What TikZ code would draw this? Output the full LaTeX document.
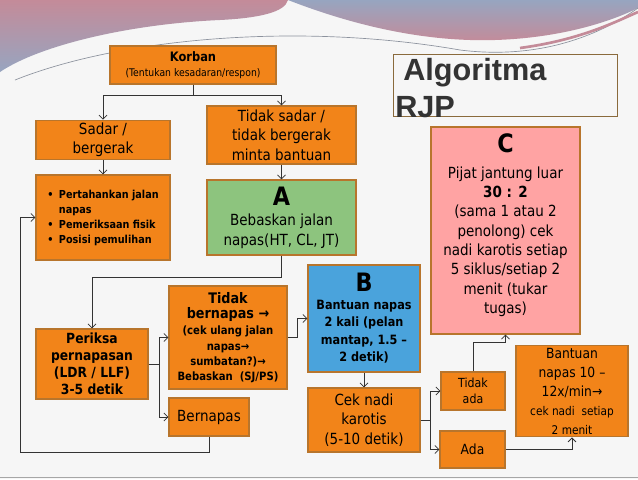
\documentclass[tikz,border=0pt]{standalone}
\usepackage{fontspec}
\setmainfont{DejaVu Sans}[FakeStretch=0.88]
\newfontfamily\titlefont{Liberation Sans}
\usetikzlibrary{arrows.meta}
\definecolor{rjInk}{HTML}{333333}
\definecolor{rjOrange}{HTML}{F28419}
\definecolor{rjEdge}{HTML}{B8752C}
\definecolor{rjGreen}{HTML}{8DC47E}
\definecolor{rjBlue}{HTML}{4AA3DC}
\definecolor{rjPink}{HTML}{FFA3A3}
\definecolor{rjBg}{HTML}{F6F6F6}
\definecolor{rjRose}{HTML}{C48B99}
\definecolor{rjSlate}{HTML}{97A5C0}
\definecolor{rjFrame}{HTML}{8A6A3C}
\newcommand{\fsz}[2]{\fontsize{#1}{#2}\selectfont}
\tikzset{
  dims/.style 2 args={minimum width=#1*0.75pt, minimum height=#2*0.75pt},
  box/.style={
    draw=rjEdge, line width=0.8pt, fill=rjOrange, text=black,
    align=center, inner sep=2pt, font=\fsz{11.5pt}{14.6pt}
  },
  greenbox/.style={box, fill=rjGreen},
  bluebox/.style={box, fill=rjBlue},
  pinkbox/.style={box, fill=rjPink},
  flow/.style={-{Straight Barb[length=3pt,width=6pt]}, line width=0.6pt, draw=rjInk},
}

\begin{document}
\begin{tikzpicture}[x=0.75pt, y=-0.75pt]
  \useasboundingbox (0,0) rectangle (638,479);
  \fill[rjBg] (0,0) rectangle (638,479);
  \draw[gray!70, line width=1pt] (0,477.5) -- (638,477.5);
  \shade[top color=rjRose, bottom color=rjSlate] (0,0) -- (288,0)
    .. controls (285,12) and (260,18) .. (220,20)
    .. controls (130,24) and (40,45) .. (0,72) -- cycle;
  \shade[top color=rjSlate, bottom color=rjRose] (288,0)
    .. controls (360,28) and (430,42) .. (495,40)
    .. controls (560,38) and (610,22) .. (638,8) -- (638,0) -- cycle;
  \draw[rjSlate!60!black!70, line width=0.5pt] (15,80)
    .. controls (120,38) and (300,22) .. (460,50)
    .. controls (540,60) and (600,35) .. (638,8);
  \draw[rjRose, line width=2pt] (520,48) .. controls (580,40) and (615,22) .. (638,12);

  \node[box, dims={166}{38}, font=\fsz{7.9pt}{11pt}] (korban) at (193,65)
    {\fsz{9.75pt}{12pt}\bfseries Korban\\ (Tentukan kesadaran/respon)};
  \node[box, dims={134}{38}] (sadar) at (103,140) {Sadar /\\ bergerak};
  \node[box, dims={149}{58}] (tsadar) at (281.5,135) {Tidak sadar /\\ tidak bergerak\\ minta bantuan};
  \node[box, dims={134}{85}, align=left, font=\fsz{8.25pt}{11.25pt}\bfseries] (jaga) at (103,217.5)
    {\textbullet\enspace Pertahankan jalan\\ \phantom{\textbullet\enspace}napas\\
     \textbullet\enspace Pemeriksaan fisik\\ \textbullet\enspace Posisi pemulihan};
  \node[greenbox, dims={149}{75}] (A) at (281.5,217.5)
    {\fsz{19pt}{22pt}\bfseries A\\[1pt] Bebaskan jalan\\ napas(HT, CL, JT)};

  \node[draw=rjFrame, line width=0.6pt, dims={224}{62}] (titlebox) at (505,85) {};
  \node[anchor=north west, inner sep=0pt, align=left, text=rjInk,
    font=\titlefont\fsz{23pt}{27.75pt}\bfseries] (title) at (395,58) {\hspace*{6pt}Algoritma\\RJP};

  \node[pinkbox, dims={149}{207}] (C) at (505.5,230.5) {};
  \node[anchor=north, inner sep=0pt, align=center, font=\fsz{11.5pt}{14.5pt}] (Ctext) at (505.5,133)
    {\fsz{19pt}{22pt}\bfseries C\\[5pt] Pijat jantung luar\\ \bfseries 30 : 2\\
     (sama 1 atau 2\\ penolong) cek\\ nadi karotis setiap\\ 5 siklus/setiap 2\\ menit (tukar\\ tugas)};

  \node[bluebox, dims={112}{107}, font=\fsz{9.6pt}{13.1pt}\bfseries] (B) at (364,318.5)
    {\fsz{19pt}{22pt}B\\ Bantuan napas\\ 2 kali (pelan\\ mantap, 1.5 –\\ 2 detik)};
  \node[box, dims={112}{70}, font=\fsz{10.5pt}{12.75pt}\bfseries] (periksa) at (92,364)
    {Periksa\\ pernapasan\\ (LDR / LLF)\\ 3-5 detik};
  \node[box, dims={118}{103}, font=\fsz{8.6pt}{11.4pt}\bfseries] (tbernapas) at (228,337.5)
    {\fsz{10.9pt}{14.25pt}Tidak\\ \fsz{10.9pt}{14.25pt}bernapas →\\[1pt] (cek ulang jalan\\ napas→\\
     sumbatan?)→\\ Bebaskan\ \ (SJ/PS)};
  \node[box, dims={80}{38}] (bernapas) at (209,417) {Bernapas};
  \node[box, dims={112}{64}] (ceknadi) at (364,420) {Cek nadi\\ karotis\\ (5-10 detik)};
  \node[box, dims={64}{38}, font=\fsz{9.4pt}{12pt}] (tidakada) at (473,391) {Tidak\\ ada};
  \node[box, dims={65}{37}, font=\fsz{10.5pt}{12pt}] (ada) at (472.5,449.5) {Ada};
  \node[box, dims={112}{90}, font=\fsz{10.5pt}{14.25pt}] (bantuan) at (572,391)
    {Bantuan\\ napas 10 –\\ 12x/min→\\ \fsz{9pt}{11.5pt}cek nadi\ \ setiap\\ \fsz{9pt}{11.5pt}2 menit};

  \coordinate (back) at (20,452);
  \draw[flow] (korban.south) -- ++(0,11) -| (sadar.north);
  \draw[flow] (korban.south) -- ++(0,11) -| (tsadar.north);
  \draw[flow] (sadar) -- (jaga);
  \draw[flow] (tsadar) -- (A);
  \draw[flow] (A.south) -- ++(0,22) -| (periksa.north);
  \draw[flow] (bernapas.south) |- (back) |- (jaga.west);
  \draw[flow] (periksa.east) -- ++(11,0) |- (tbernapas.west);
  \draw[flow] (periksa.east) -- ++(11,0) |- (bernapas.west);
  \draw[flow] (tbernapas.east) -- ++(10,0) |- (B.west);
  \draw[flow] (B) -- (ceknadi);
  \draw[flow] (ceknadi.east) -- ++(10,0) |- (tidakada.west);
  \draw[flow] (ceknadi.east) -- ++(10,0) |- (ada.west);
  \draw[flow] (tidakada.north) -- ++(0,-29) -| (C.south);
  \draw[flow] (ada.east) -| (bantuan.south);
\end{tikzpicture}
\end{document}
